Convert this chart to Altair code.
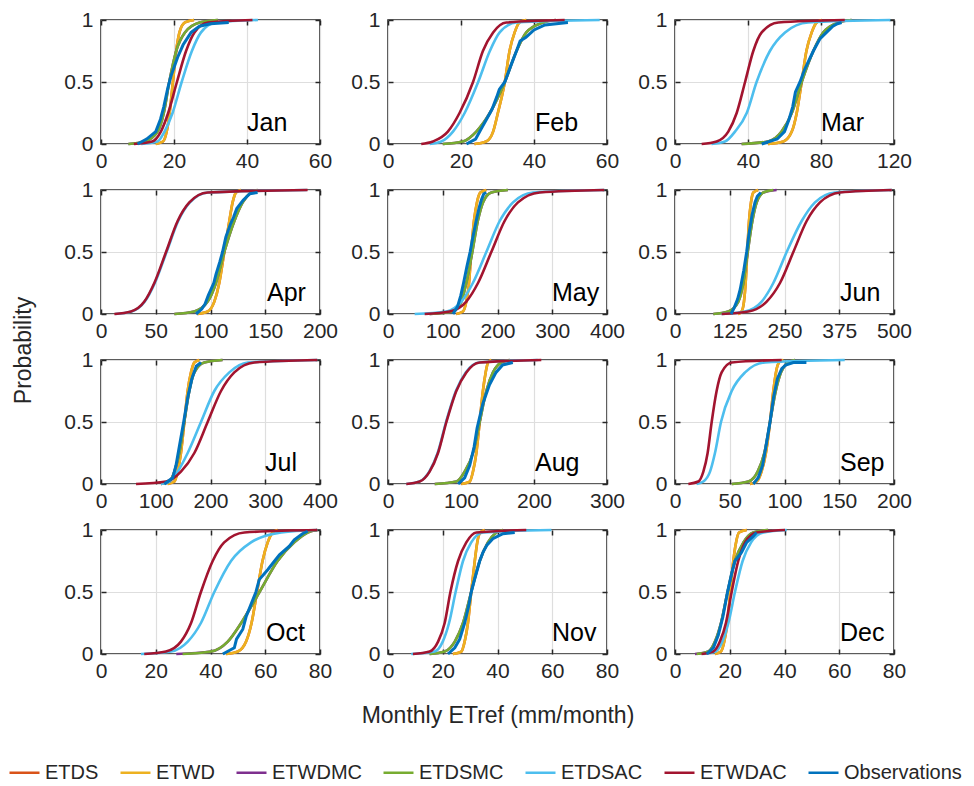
import altair as alt
import pandas as pd

FONT = "Liberation Sans"
INK = "#262626"
GRID = "#dedede"
W, H = 219, 124
TICK_FS = 21

MONTHS = ["Jan", "Feb", "Mar", "Apr", "May", "Jun", "Jul", "Aug", "Sep", "Oct", "Nov", "Dec"]
LABEL_X = [146, 147, 146, 166, 164, 165, 164, 147, 165, 165, 164, 165]
XMAX = [60, 60, 120, 200, 400, 500, 400, 300, 200, 80, 80, 80]
XTICKS = [
    [0, 20, 40, 60], [0, 20, 40, 60], [0, 40, 80, 120],
    [0, 50, 100, 150, 200], [0, 100, 200, 300, 400], [0, 125, 250, 375, 500],
    [0, 100, 200, 300, 400], [0, 100, 200, 300], [0, 50, 100, 150, 200],
    [0, 20, 40, 60, 80], [0, 20, 40, 60, 80], [0, 20, 40, 60, 80],
]
YTICKS = [0, 0.5, 1]

SERIES = ["ETDS", "ETWD", "ETWDMC", "ETDSMC", "ETDSAC", "ETWDAC", "Observations"]
COLORS = ["#D95319", "#EDB120", "#7E2F8E", "#77AC30", "#4DBEEE", "#A2142F", "#0072BD"]

# probability levels at which the model CDF curves were read
P_MODEL = [0, 0.02, 0.1, 0.25, 0.5, 0.75, 0.9, 0.98, 1]

ETWD = [
    [15, 17, 18, 18.8, 19.7, 20.6, 21.5, 23, 25.5],
    [23.7, 26.9, 28.8, 30.1, 32, 33.3, 34.7, 36, 37.9],
    [51, 59.4, 64, 66.7, 69.4, 72, 74.9, 77.6, 80.4],
    [88, 97.4, 103.5, 108, 112.6, 117.2, 120.2, 123.3, 127.9],
    [124.8, 137, 143, 148, 152, 157, 162.5, 168.6, 179.6],
    [144.6, 152, 157.5, 161.3, 165, 169, 173.5, 178.8, 190],
    [121.8, 134, 140, 146, 152.2, 158.3, 164.4, 170.5, 179.6],
    [100.5, 112, 116.4, 121, 125.6, 130, 133.8, 137, 141.6],
    [68.5, 74.6, 79, 83, 86.8, 89.8, 92.2, 95, 99],
    [45.7, 50, 53, 55, 57, 59, 60.9, 62.7, 64.5],
    [23.7, 26.8, 28, 29.2, 30.4, 31.7, 32.6, 33.7, 35.3],
    [14.6, 16.8, 18, 19.1, 20.2, 21.3, 22.3, 23.4, 26.2],
]
# ETDS lies underneath ETWD everywhere in the picture
ETDS = [
    [15, 17, 18, 18.8, 19.7, 20.6, 21.5, 23, 25.5],
    [23.7, 26.9, 28.8, 30.1, 32, 33.3, 34.7, 36, 37.9],
    [51, 59.4, 64, 66.7, 69.4, 72, 74.9, 77.6, 80.4],
    [88, 97.4, 103.5, 108, 112.6, 117.2, 120.2, 123.3, 127.9],
    [124.8, 137, 143, 148, 152, 157, 162.5, 168.6, 179.6],
    [144.6, 152, 157.5, 161.3, 165, 169, 173.5, 178.8, 190],
    [121.8, 134, 140, 146, 152.2, 158.3, 164.4, 170.5, 179.6],
    [100.5, 112, 116.4, 121, 125.6, 130, 133.8, 137, 141.6],
    [68.5, 74.6, 79, 83, 86.8, 89.8, 92.2, 95, 99],
    [45.7, 50, 53, 55, 57, 59, 60.9, 62.7, 64.5],
    [23.7, 26.8, 28, 29.2, 30.4, 31.7, 32.6, 33.7, 35.3],
    [14.6, 16.8, 18, 19.1, 20.2, 21.3, 22.3, 23.4, 26.2],
]
ETDSMC = [
    [7.5, 12, 15.5, 17.2, 18.7, 20.6, 23, 27, 32],
    [15, 20.5, 24.2, 27.9, 32, 35.2, 37.9, 42.5, 46],
    [36.5, 51, 58.4, 64, 69.4, 75.8, 81.3, 89.5, 96.8],
    [67, 85.2, 97.4, 105, 112.6, 121.8, 129.4, 137, 143],
    [76, 118.7, 134, 143, 154, 164, 173.5, 188.7, 219],
    [87.5, 121.8, 144.6, 156, 166, 176.6, 186.5, 201.7, 224.5],
    [109.6, 125, 134, 143, 152, 161.3, 170.5, 188.7, 222],
    [64, 93.6, 105, 116.4, 125.6, 134.7, 143.8, 155.3, 166.7],
    [51.8, 67, 75.5, 81.6, 86.8, 92, 96.8, 103.5, 109.6],
    [29.8, 40.2, 46.3, 51.2, 57.9, 64.5, 70.6, 75.5, 79],
    [15.2, 20.7, 24.4, 27.4, 30.4, 33.5, 36.5, 39.6, 42],
    [7.9, 12.2, 14.6, 16.8, 19.2, 21.9, 25, 28.6, 34],
]
ETWDMC = [
    [7.5, 12, 15.5, 17.2, 18.7, 20.6, 23, 27, 32],
    [15, 20.5, 24.2, 27.9, 32, 35.2, 37.9, 42.5, 46],
    [36.5, 51, 58.4, 64, 69.4, 75.8, 81.3, 89.5, 96.8],
    [67, 85.2, 97.4, 105, 112.6, 121.8, 129.4, 137, 143],
    [76, 118.7, 134, 143, 154, 164, 173.5, 188.7, 219],
    [87.5, 121.8, 144.6, 156, 166, 176.6, 186.5, 201.7, 232],
    [109.6, 125, 134, 143, 152, 161.3, 170.5, 188.7, 222],
    [64, 93.6, 105, 116.4, 125.6, 134.7, 143.8, 155.3, 166.7],
    [51.8, 67, 75.5, 81.6, 86.8, 92, 96.8, 103.5, 109.6],
    [27.5, 40.2, 46.3, 51.2, 57.9, 64.5, 70.6, 75.5, 79],
    [15.2, 20.7, 24.4, 27.4, 30.4, 33.5, 36.5, 39.6, 42],
    [7.3, 12.2, 14.6, 16.8, 19.2, 21.9, 25, 28.6, 34],
]
ETDSAC = [
    [11, 15.5, 17.4, 19.6, 22.1, 24.9, 27.4, 31.5, 43],
    [11.4, 14.6, 17.8, 21, 24.7, 27.9, 30.6, 35.2, 58],
    [20, 27.4, 32.9, 39.3, 44.7, 52, 60.3, 73, 118],
    [13, 28, 40, 49.2, 59.9, 70.5, 81.2, 98, 188],
    [48.7, 106.5, 134, 155, 179.6, 204, 228.3, 265, 395],
    [106.5, 159.8, 197.9, 224.5, 255, 289.2, 319.6, 365.3, 495],
    [109.6, 125, 140, 158.3, 182.6, 207, 234.4, 268, 395],
    [25, 43, 56.5, 68, 79.5, 93, 106.5, 124.5, 205],
    [19.8, 25.9, 32, 36.5, 42, 51.8, 64, 82.2, 155],
    [14.6, 25.6, 31.7, 36.5, 41.4, 47.5, 54.8, 65.8, 79],
    [8.5, 17, 20, 22.3, 24.7, 27.4, 30.4, 34.7, 59.7],
    [10.3, 14.9, 17.3, 19.5, 21.9, 24.7, 27.8, 32.3, 40.8],
]
ETWDAC = [
    [9, 14, 16.4, 18.4, 20.8, 23.3, 25.6, 29.3, 41.5],
    [9.1, 12.3, 16.4, 19.6, 23.3, 26, 28.8, 32.4, 48.4],
    [14.6, 22.8, 29.2, 33.8, 38.4, 42.9, 47.5, 56.6, 93],
    [12.2, 27.4, 39.6, 48.7, 59.4, 70, 80.7, 97.4, 188.7],
    [67, 112.6, 143, 164.4, 188.7, 213, 237.4, 277, 395],
    [106.5, 167.4, 209.3, 239.7, 270.2, 300.6, 331, 376.7, 495],
    [64, 118.7, 146, 170.5, 194.8, 219.2, 243.5, 280, 395],
    [25, 43.4, 57, 68.5, 80, 93.6, 107.3, 125.6, 210],
    [12.2, 21.3, 25.9, 29.8, 33.5, 38, 42.6, 51.8, 97.4],
    [15.8, 23.7, 29.2, 32.9, 36.5, 40.8, 45, 52.4, 79],
    [9.1, 15.2, 18.3, 20.7, 22.8, 25.6, 28.6, 32.3, 50.5],
    [9.7, 14, 16.4, 18.6, 20.7, 23.1, 25.6, 29.8, 40.2],
]

OBS_P = [
    [0, 0.04, 0.1, 0.2, 0.3, 0.45, 0.55, 0.7, 0.8, 0.9, 0.95, 0.97, 0.98],
    [0, 0.04, 0.12, 0.2, 0.28, 0.38, 0.44, 0.5, 0.62, 0.75, 0.83, 0.86, 0.92, 0.96, 0.98],
    [0, 0.04, 0.1, 0.2, 0.3, 0.42, 0.5, 0.6, 0.75, 0.85, 0.9, 0.95, 0.97, 0.98],
    [0, 0.04, 0.08, 0.15, 0.25, 0.32, 0.42, 0.5, 0.62, 0.72, 0.78, 0.85, 0.92, 0.97, 0.98],
    [0, 0.06, 0.15, 0.25, 0.38, 0.5, 0.62, 0.75, 0.85, 0.92, 0.97, 0.98],
    [0, 0.05, 0.12, 0.2, 0.35, 0.5, 0.65, 0.8, 0.9, 0.95, 0.98],
    [0, 0.05, 0.15, 0.3, 0.5, 0.7, 0.85, 0.95, 0.98],
    [0, 0.05, 0.15, 0.3, 0.45, 0.5, 0.65, 0.8, 0.9, 0.96, 0.98],
    [0, 0.05, 0.15, 0.3, 0.5, 0.7, 0.85, 0.93, 0.96, 0.98, 0.98],
    [0, 0.05, 0.12, 0.2, 0.3, 0.4, 0.5, 0.6, 0.68, 0.75, 0.8, 0.87, 0.92, 0.97, 0.99],
    [0, 0.05, 0.12, 0.25, 0.4, 0.5, 0.6, 0.75, 0.82, 0.88, 0.93, 0.97, 0.98],
    [0, 0.05, 0.15, 0.3, 0.5, 0.65, 0.75, 0.82, 0.9, 0.95, 0.98],
]
OBS_X = [
    [10, 12.5, 15, 16.3, 17.2, 18.3, 19.2, 21, 22.5, 24.7, 27, 30, 35],
    [21.5, 24, 25.5, 27, 28.5, 29.8, 30.5, 32, 33.5, 35.2, 36.2, 37.8, 40, 43, 49.3],
    [47.5, 56, 60, 62.5, 64.5, 66, 68.5, 71, 75.8, 79.5, 83, 86.5, 89, 91.3],
    [86.8, 92, 95, 98, 103, 105, 108.5, 111, 114, 118, 121, 124, 130, 136, 143],
    [118.7, 127, 133, 138, 144, 150, 155, 161, 166, 170.5, 175, 179.6],
    [128, 135, 143, 149, 157, 163.6, 169, 176, 182.6, 188, 196],
    [115.7, 131, 137, 143, 151, 158.5, 166, 174, 182.6],
    [96, 105, 112, 118, 122, 124, 130, 139, 148, 157, 171],
    [71.5, 76, 80, 83, 86.8, 90, 93.5, 97.5, 101, 108, 120],
    [44.5, 48.7, 49.5, 51.8, 53, 54.8, 56.6, 57.8, 60.9, 63.4, 65.2, 68.8, 70.6, 73.6, 75.5],
    [21.9, 24.4, 26.2, 28, 29.6, 30.4, 31.6, 33.5, 34.7, 36.2, 38.3, 42, 46.3],
    [11.6, 14, 15.8, 17.5, 19.2, 20.7, 21.9, 24.3, 26.2, 28.6, 29.8],
]

MODEL = {"ETDS": ETDS, "ETWD": ETWD, "ETWDMC": ETWDMC, "ETDSMC": ETDSMC,
         "ETDSAC": ETDSAC, "ETWDAC": ETWDAC}

CSCALE = alt.Scale(domain=SERIES, range=COLORS)
LEG = alt.Legend(
    title=None, orient="none", legendX=-93, legendY=736, direction="horizontal",
    columns=7, symbolType="stroke", symbolSize=900, symbolStrokeWidth=2.5,
    labelFontSize=20, labelFont=FONT, labelColor=INK, labelOffset=4,
    columnPadding=16, labelLimit=300,
)


def panel(i):
    xs = alt.Scale(domain=[0, XMAX[i]], nice=False, zero=False)
    ys = alt.Scale(domain=[0, 1], nice=False, zero=False)
    xk = dict(values=XTICKS[i], grid=True, gridColor=GRID, gridWidth=1.2, ticks=False,
              domain=False, labelFontSize=TICK_FS, labelFont=FONT, labelColor=INK,
              labelPadding=6, labelFlush=False, labelOverlap=False, title=None)
    if i == 10:
        xk.update(title="Monthly ETref (mm/month)", titleFont=FONT, titleFontSize=23,
                  titleFontWeight="normal", titleColor=INK, titlePadding=23)
    yk = dict(values=YTICKS, grid=True, gridColor=GRID, gridWidth=1.2, ticks=False,
              domain=False, labelFontSize=TICK_FS, labelFont=FONT, labelColor=INK,
              labelPadding=8, labelFlush=False, labelOverlap=False, format="~g", title=None)
    if i == 3:
        yk.update(title="Probability", titleFont=FONT, titleFontSize=23,
                  titleFontWeight="normal", titleColor=INK, titleY=160, titleX=-78,
                  titleAngle=-90, titleAlign="center", titleBaseline="middle")
    xaxis = alt.Axis(**xk)
    yaxis = alt.Axis(**yk)

    layers = []
    for name in SERIES:
        if name == "Observations":
            df = pd.DataFrame({"x": OBS_X[i], "p": OBS_P[i], "series": name})
            mk = alt.Chart(df).mark_line(interpolate="linear", strokeWidth=3)
        else:
            df = pd.DataFrame({"x": MODEL[name][i], "p": P_MODEL, "series": name})
            mk = alt.Chart(df).mark_line(interpolate="monotone", strokeWidth=2.6)
        first = len(layers) == 0
        enc = dict(
            x=alt.X("x:Q", scale=xs, axis=xaxis) if first else alt.X("x:Q", scale=xs, axis=None),
            y=alt.Y("p:Q", scale=ys, axis=yaxis) if first else alt.Y("p:Q", scale=ys, axis=None),
            color=alt.Color("series:N", scale=CSCALE, legend=LEG),
        )
        layers.append(mk.encode(**enc))

    tdf = pd.DataFrame({"x": [0], "p": [0]})
    tick_style = dict(labels=False, domain=False, grid=False, ticks=True, tickSize=5,
                      tickWidth=1.5, tickColor=INK, title=None)
    t1 = alt.Chart(tdf).mark_point(opacity=0).encode(
        x=alt.X("x:Q", scale=xs, axis=alt.Axis(orient="top", offset=-H, values=XTICKS[i], **tick_style)),
        y=alt.Y("p:Q", scale=ys, axis=alt.Axis(orient="right", offset=-W, values=YTICKS, **tick_style)),
    )
    t2 = alt.Chart(tdf).mark_point(opacity=0).encode(
        x=alt.X("x:Q", scale=xs, axis=alt.Axis(orient="bottom", offset=-H, values=XTICKS[i], **tick_style)),
        y=alt.Y("p:Q", scale=ys, axis=alt.Axis(orient="left", offset=-W, values=YTICKS, **tick_style)),
    )
    txt = alt.Chart(pd.DataFrame({"m": [MONTHS[i]]})).mark_text(
        align="left", baseline="alphabetic", fontSize=25, font=FONT, color="black"
    ).encode(text="m:N", x=alt.value(LABEL_X[i]), y=alt.value(111))

    return alt.layer(*layers, t1, t2, txt).resolve_axis(
        x="independent", y="independent"
    ).properties(width=W, height=H)


panels = [panel(i) for i in range(12)]
chart = alt.concat(
    *panels, columns=3, spacing=alt.RowColnumber(row=46, column=68), bounds="flush"
).properties(padding=0, background="white").configure(font=FONT).configure_view(
    stroke=INK, strokeWidth=1.6
)

chart.save("out.html", embed_options={"renderer": "svg", "actions": False})
